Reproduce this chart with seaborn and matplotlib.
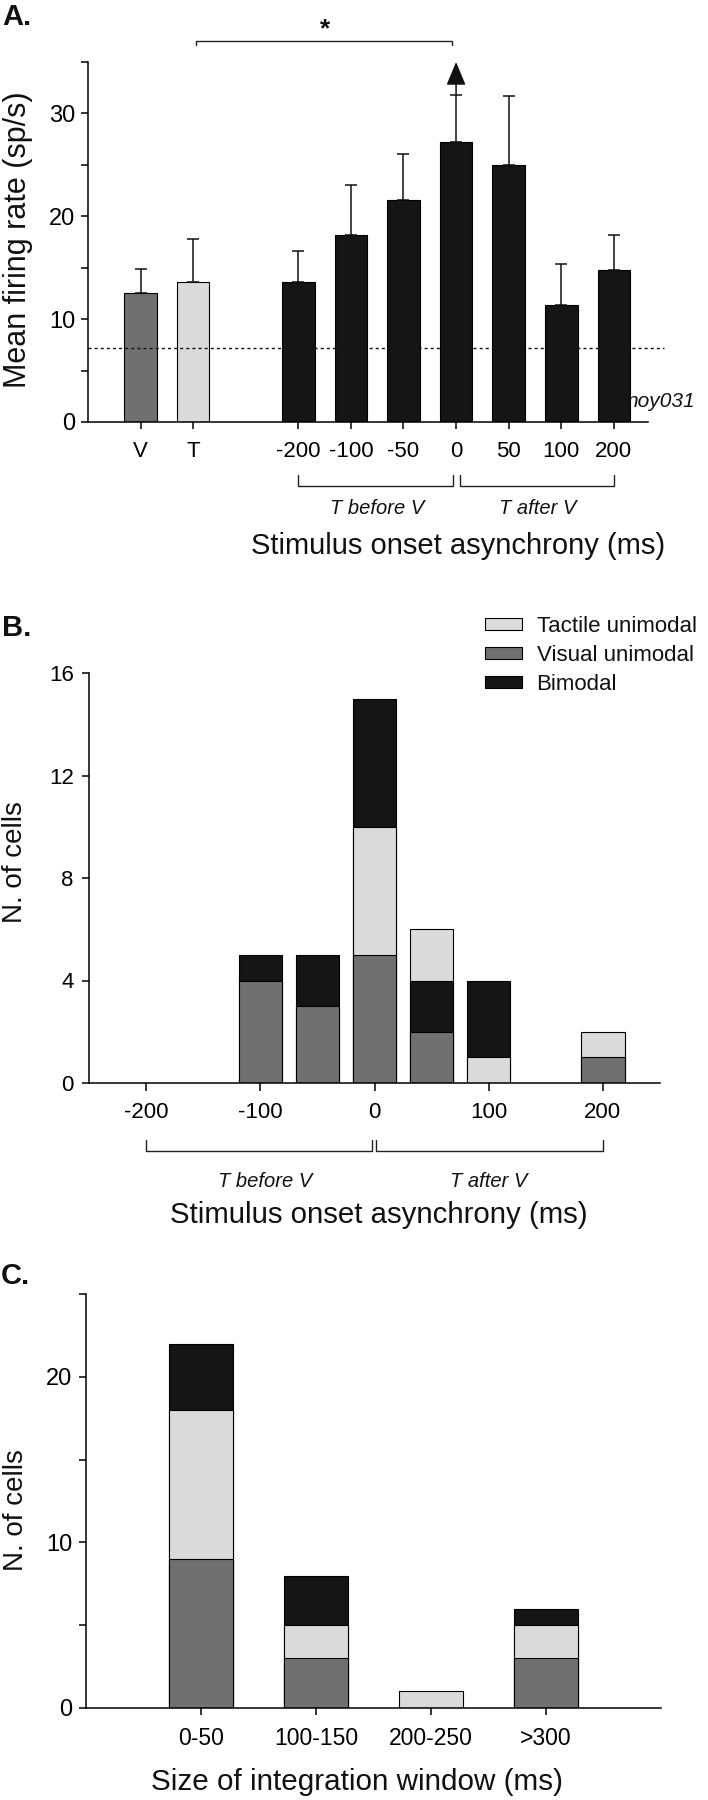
import seaborn as sns
import matplotlib.pyplot as plt
from matplotlib.patches import Patch

# Panel A: mean firing rate per condition (upper error only)
a_labels = ['V', 'T', '-200', '-100', '-50', '0', '50', '100', '200']
a_kind = ['visual', 'tactile'] + ['bimodal'] * 7
a_means = [12.5, 13.6, 13.6, 18.2, 21.6, 27.2, 25.0, 11.4, 14.8]
a_errs = [2.4, 4.2, 3.0, 4.8, 4.5, 4.6, 6.7, 4.0, 3.4]
a_baseline = 7.2

# Panel B: number of cells per SOA bin (ms)
b_bins = ['-200', '-150', '-100', '-50', '0', '50', '100', '150', '200']
b_visual = [0, 0, 4, 3, 5, 2, 0, 0, 1]
b_tactile = [0, 0, 0, 0, 5, 2, 1, 0, 1]
b_bimodal = [0, 0, 1, 2, 5, 2, 3, 0, 0]

# Panel C: number of cells per integration window
c_bins = ['0-50', '100-150', '200-250', '>300']
c_visual = [9, 3, 0, 3]
c_tactile = [9, 2, 1, 2]
c_bimodal = [4, 3, 0, 1]

legend_names = {'tactile': 'Tactile unimodal', 'visual': 'Visual unimodal', 'bimodal': 'Bimodal'}
COLORS = {'visual': '#707070', 'tactile': '#dadada', 'bimodal': '#151515'}
KINDS = ['visual', 'tactile', 'bimodal']

W, H = 708, 1800

sns.set_theme(style='ticks')
plt.rcParams['font.family'] = ['Liberation Sans', 'DejaVu Sans']
plt.rcParams.update({'axes.edgecolor': 'black', 'xtick.color': 'black', 'ytick.color': 'black',
                     'text.color': '#111111', 'axes.labelcolor': '#111111', 'axes.linewidth': 1.1})


def fx(x):
    return x / W


def fy(y):
    return 1 - y / H


def stacked(ax, bins, counts, orders, width):
    # draw cumulative layers from the top down, so the lower ones cover the upper
    for lev in reversed(range(len(KINDS))):
        for kind in KINDS:
            xs, ys = [], []
            for i, b in enumerate(bins):
                seq = [k for k in orders[i] if counts[k][i] > 0]
                if lev < len(seq) and seq[lev] == kind:
                    xs.append(b)
                    ys.append(sum(counts[k][i] for k in seq[:lev + 1]))
            if xs:
                sns.barplot(x=xs, y=ys, order=bins, color=COLORS[kind], width=width,
                            saturation=1, edgecolor='black', linewidth=0.8,
                            errorbar=None, ax=ax)


def bracket(ax, x0, x1, y, tick):
    ax.plot([x0, x0, x1, x1], [y + tick, y, y, y + tick], color='#222222', lw=1.0, clip_on=False)


fig = plt.figure(figsize=(W / 100, H / 100), dpi=100)

# ---------------- A ----------------
axA = fig.add_axes([fx(88), fy(422), (648 - 88) / W, (422 - 62) / H])
a_order = a_labels[:2] + [''] + a_labels[2:]
pos = [a_order.index(l) for l in a_labels]
sns.barplot(x=a_labels, y=a_means, hue=a_labels, order=a_order,
            palette={l: COLORS[k] for l, k in zip(a_labels, a_kind)}, legend=False,
            width=0.62, saturation=1, edgecolor='black', linewidth=0.8, errorbar=None, ax=axA)
axA.errorbar(pos, a_means, yerr=[[0] * len(a_errs), a_errs], fmt='none', ecolor='#111111',
             elinewidth=1.1, capsize=4.2, capthick=1.1, zorder=1)
p0 = pos[a_labels.index('0')]
axA.annotate('', xy=(p0, 35), xytext=(p0, a_means[5] + a_errs[5]), annotation_clip=False,
             arrowprops=dict(arrowstyle='-|>,head_length=1.44,head_width=0.6', mutation_scale=10,
                             color='#111111', lw=1.1, shrinkA=0, shrinkB=0))
axA.plot([-1, 9.95], [a_baseline, a_baseline], color='#111111', lw=1.0, ls=(0, (2.2, 2.2)), clip_on=False)
axA.set_xlim(-1, 9.65)
axA.set_ylim(0, 35)
axA.set_yticks(range(0, 36, 5), labels=['0', '', '10', '', '20', '', '30', ''], fontsize=17)
axA.set_xticks(pos, labels=a_labels, fontsize=16)
axA.tick_params(axis='x', length=5, width=1.1, pad=9)
axA.tick_params(axis='y', length=5, width=1.1, pad=4)
sns.despine(ax=axA)
# significance bracket T vs 0
pT = pos[a_labels.index('T')]
bracket(axA, pT + 0.05, p0 - 0.08, 37.05, -0.35)
axA.text((pT + p0) / 2, 37.5, '*', ha='center', va='baseline', fontsize=19, fontweight='bold')
# T before / after V
pm200 = pos[a_labels.index('-200')]
p200 = pos[a_labels.index('200')]
bracket(axA, pm200, p0 - 0.05, -6.2, 1.0)
bracket(axA, p0 + 0.08, p200, -6.2, 1.0)
axA.text((pm200 + p0) / 2, -8.4, 'T before V', ha='center', va='center', fontsize=14.5, style='italic')
axA.text((p0 + p200) / 2 + 0.05, -8.4, 'T after V', ha='center', va='center', fontsize=14.5, style='italic')
axA.text(9.24, 2.0, 'noy031', ha='left', va='center', fontsize=15, style='italic')
axA.set_ylabel('Mean firing rate (sp/s)', fontsize=22, va='center')
axA.yaxis.set_label_coords(fx(18), fy(240), transform=fig.transFigure)
axA.set_xlabel('Stimulus onset asynchrony (ms)', fontsize=21, va='center')
axA.xaxis.set_label_coords(fx(458), fy(546), transform=fig.transFigure)
fig.text(fx(2), fy(25), 'A.', fontsize=21, fontweight='bold', va='baseline', ha='left')

# ---------------- B ----------------
axB = fig.add_axes([fx(89), fy(1083), (660 - 89) / W, (1083 - 673) / H])
b_counts = {'visual': b_visual, 'tactile': b_tactile, 'bimodal': b_bimodal}
b_orders = [KINDS] * len(b_bins)
b_orders[b_bins.index('50')] = ['visual', 'bimodal', 'tactile']
stacked(axB, b_bins, b_counts, b_orders, 0.76)
axB.set_xlim(-1, len(b_bins))
axB.set_ylim(0, 16)
tick_idx = [i for i, b in enumerate(b_bins) if int(b) % 100 == 0]
axB.set_xticks(tick_idx, labels=[b_bins[i] for i in tick_idx], fontsize=16)
axB.set_yticks(range(0, 17, 4), labels=[str(v) for v in range(0, 17, 4)], fontsize=16)
axB.tick_params(axis='x', length=6, width=1.1, pad=8)
axB.tick_params(axis='y', length=5, width=1.1, pad=6)
sns.despine(ax=axB)
i0 = b_bins.index('0')
bracket(axB, tick_idx[0], i0 - 0.05, -2.66, 0.42)
bracket(axB, i0 + 0.03, tick_idx[-1], -2.66, 0.42)
axB.text((tick_idx[0] + i0) / 2 + 0.08, -3.85, 'T before V', ha='center', va='center',
         fontsize=14.5, style='italic')
axB.text((i0 + tick_idx[-1]) / 2, -3.85, 'T after V', ha='center', va='center',
         fontsize=14.5, style='italic')
handles = [Patch(facecolor=COLORS[k], edgecolor='black', lw=0.8) for k in ['tactile', 'visual', 'bimodal']]
axB.legend(handles, [legend_names[k] for k in ['tactile', 'visual', 'bimodal']],
           loc='upper left', bbox_to_anchor=(fx(485), fy(616)), bbox_transform=fig.transFigure,
           frameon=False, fontsize=16, handlelength=1.67, handleheight=0.42, handletextpad=0.65,
           labelspacing=0.36, borderpad=0, borderaxespad=0)
axB.set_ylabel('N. of cells', fontsize=20, va='center')
axB.yaxis.set_label_coords(fx(15), fy(862), transform=fig.transFigure)
axB.set_xlabel('Stimulus onset asynchrony (ms)', fontsize=21.2, va='center')
axB.xaxis.set_label_coords(fx(379), fy(1215), transform=fig.transFigure)
fig.text(fx(2), fy(636), 'B.', fontsize=21, fontweight='bold', va='baseline', ha='left')

# ---------------- C ----------------
axC = fig.add_axes([fx(86), fy(1708), (661 - 86) / W, (1708 - 1294) / H])
c_counts = {'visual': c_visual, 'tactile': c_tactile, 'bimodal': c_bimodal}
stacked(axC, c_bins, c_counts, [KINDS] * len(c_bins), 0.55)
axC.set_xlim(-1, 4)
axC.set_ylim(0, 25)
axC.set_xticks(range(len(c_bins)), labels=c_bins, fontsize=16.5)
axC.set_yticks(range(0, 26, 5), labels=['0', '', '10', '', '20', ''], fontsize=17)
axC.tick_params(axis='x', length=5, width=1.1, pad=9)
axC.tick_params(axis='y', length=5, width=1.1, pad=5)
sns.despine(ax=axC)
axC.set_ylabel('N. of cells', fontsize=20, va='center')
axC.yaxis.set_label_coords(fx(16), fy(1510), transform=fig.transFigure)
axC.set_xlabel('Size of integration window (ms)', fontsize=21.3, va='center')
axC.xaxis.set_label_coords(fx(357), fy(1782), transform=fig.transFigure)
fig.text(fx(1), fy(1284), 'C.', fontsize=21, fontweight='bold', va='baseline', ha='left')

fig.savefig('out.png', dpi=100)
